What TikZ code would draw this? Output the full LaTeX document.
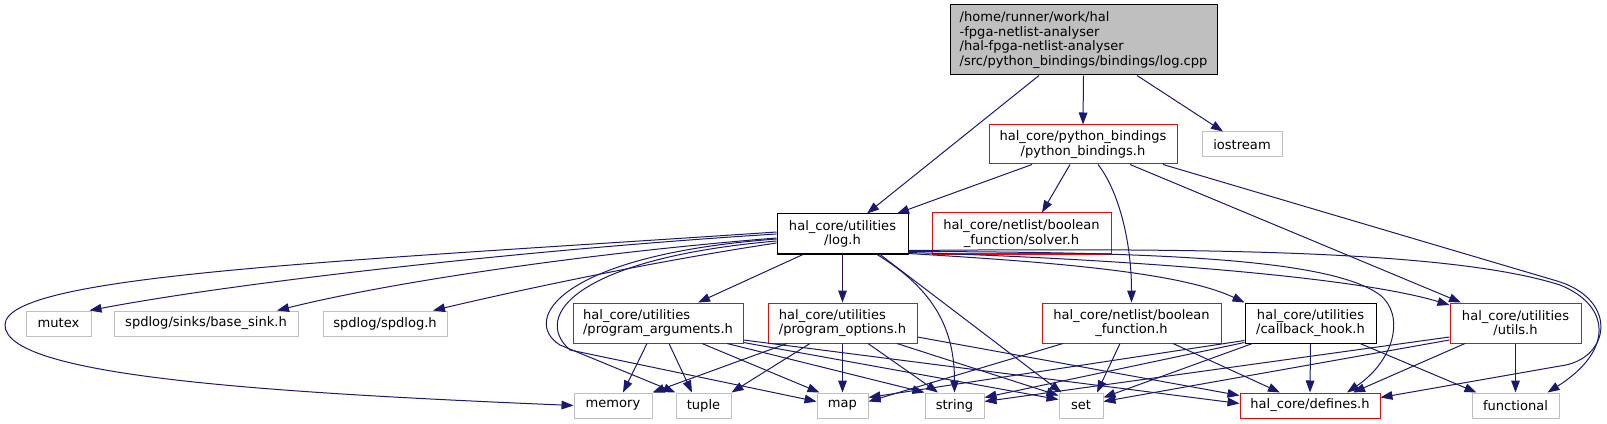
\documentclass[tikz,border=0pt]{standalone}
\usepackage{fontspec}
\setmainfont{DejaVu Sans}
\definecolor{edgeblue}{HTML}{191970}
\definecolor{leafgray}{HTML}{BFBFBF}
\usetikzlibrary{arrows.meta, calc}

\begin{document}
\begin{tikzpicture}[x=0.75pt, y=-0.75pt, every node/.style={font=\fontsize{9.8}{11}\selectfont}]
        \tikzset{
          incl/.style 2 args={rectangle, inner sep=0pt, line width=0.75pt,
                      align=center, minimum width=#1*0.75pt,
                      minimum height=#2*0.75pt},
          mainfile/.style={draw=black, fill=leafgray},
          redfile/.style={draw=red},
          blackfile/.style={draw=black},
          sysfile/.style={draw=leafgray},
          dep/.style={draw=edgeblue, line width=0.75pt,
                      -{Triangle[length=9pt, width=6.5pt]}}
        }
        \useasboundingbox (0,0) rectangle (1607,424);

        % top rows
        \node[incl={267}{70}, mainfile, align=left] (src) at (1083.5,40)
              {/home/runner/work/hal\\-fpga-netlist-analyser\\/hal-fpga-netlist-analyser\\/src/python\_bindings/bindings/log.cpp};
        \node[incl={188}{39}, redfile] (pyb) at (1083,144.5) {hal\_core/python\_bindings\\/python\_bindings.h};
        \node[incl={80}{25}, sysfile] (iostream) at (1242,144.5) {iostream};
        \node[incl={131}{40}, blackfile] (log) at (842.5,234) {hal\_core/utilities\\/log.h};
        \node[incl={179}{41}, redfile] (solver) at (1021.5,233.5) {hal\_core/netlist/boolean\\\_function/solver.h};

        % middle row
        \node[incl={65}{25}, sysfile] (mutex) at (58.5,323.5) {mutex};
        \node[incl={184}{25}, sysfile] (basesink) at (206,323.5) {spdlog/sinks/base\_sink.h};
        \node[incl={124}{25}, sysfile] (spdlog) at (385,323.5) {spdlog/spdlog.h};
        \node[incl={170}{40}, redfile, align=left] (progargs) at (658,323) {hal\_core/utilities\\/program\_arguments.h};
        \node[incl={149}{40}, redfile, align=left] (progopts) at (842.5,323) {hal\_core/utilities\\/program\_options.h};
        \node[incl={179}{40}, redfile] (boolfn) at (1131.5,323) {hal\_core/netlist/boolean\\\_function.h};
        \node[incl={131}{40}, blackfile] (callback) at (1310.5,323) {hal\_core/utilities\\/callback\_hook.h};
        \node[incl={131}{40}, redfile] (utils) at (1515.5,323) {hal\_core/utilities\\/utils.h};

        % bottom row
        \node[incl={78}{25}, sysfile] (memory) at (613,405.5) {memory};
        \node[incl={55}{25}, sysfile] (tuple) at (703.5,405.5) {tuple};
        \node[incl={51}{25}, sysfile] (map) at (842.5,405.5) {map};
        \node[incl={59}{25}, sysfile] (string) at (954.5,405.5) {string};
        \node[incl={44}{25}, sysfile] (set) at (1081,405.5) {set};
        \node[incl={140}{25}, redfile] (defines) at (1310,405.5) {hal\_core/defines.h};
        \node[incl={87}{25}, sysfile] (functional) at (1515.5,405.5) {functional};

        % log.cpp
        \draw[dep] ($(src.south)+(-44.5,0)$) -- ($(log.north)+(24.5,0)$);
        \draw[dep] (src.south) -- (pyb.north);
        \draw[dep] ($(src.south)+(53.5,0)$) -- ($(iostream.north)+(-19,0)$);

        % python_bindings.h
        \draw[dep] ($(pyb.south)+(-51,0)$) -- ($(log.north)+(54.5,0)$);
        \draw[dep] ($(pyb.south)+(-13,0)$) -- ($(solver.north)+(20.5,0)$);
        \draw[dep] ($(pyb.south)+(15,0)$) .. controls (1118,190) and (1131.5,240) .. (boolfn.north);
        \draw[dep] ($(pyb.south)+(47,0)$) -- ($(utils.north)+(-54.5,0)$);
        \draw[dep] ($(pyb.south)+(80,0)$) -- (1557,281) .. controls (1620,300) and (1610,360) .. (1560,366)
              -- ($(defines.east)+(0,-8)$);

        % log.h
        \draw[dep] (log.west) .. controls (550,248) and (250,280) .. ($(mutex.north east)+(-2,0)$);
        \draw[dep] ($(log.west)+(0,4)$) .. controls (600,252) and (400,280) .. ($(basesink.north)+(71,0)$);
        \draw[dep] ($(log.west)+(0,9)$) .. controls (650,262) and (520,290) .. ($(spdlog.north)+(48,0)$);
        \draw[dep] ($(log.west)+(0,-2)$) .. controls (330,262) and (5,275) .. (5,325)
              .. controls (5,375) and (250,392) .. (memory.west);
        \draw[dep] ($(log.west)+(0,5)$) .. controls (560,255) and (520,320) .. (560,345) -- (tuple.north west);
        \draw[dep] ($(log.west)+(0,7)$) .. controls (580,258) and (530,315) .. (570,350) -- ($(map.west)+(0,-4)$);
        \draw[dep] ($(log.south)+(-39.5,0)$) -- ($(progargs.north)+(40,0)$);
        \draw[dep] (log.south) -- (progopts.north);
        \draw[dep] ($(log.south)+(34.5,0)$) .. controls (935,290) and (954.5,330) .. (string.north);
        \draw[dep] ($(log.south)+(37.5,0)$) -- ($(set.north west)+(3,0)$);
        \draw[dep] ($(log.south east)+(0,-1)$) .. controls (1050,262) and (1180,272) .. (callback.north west);
        \draw[dep] ($(log.south east)+(0,-2)$) .. controls (1100,258) and (1350,275) .. ($(utils.west)+(0,-18)$);
        \draw[dep] ($(log.south east)+(0,-3)$) .. controls (1150,252) and (1330,258) .. (1380,295)
              .. controls (1405,315) and (1395,360) .. ($(defines.north)+(37,0)$);
        \draw[dep] ($(log.south east)+(0,-4)$) .. controls (1200,248) and (1450,250) .. (1560,285)
              .. controls (1610,305) and (1615,350) .. ($(functional.north east)+(-12,0)$);

        % program_arguments.h
        \draw[dep] ($(progargs.south)+(-11,0)$) -- ($(memory.north)+(10,0)$);
        \draw[dep] ($(progargs.south)+(11,0)$) -- ($(tuple.north)+(-11.5,0)$);
        \draw[dep] ($(progargs.south)+(44,0)$) -- ($(map.north west)+(3,0)$);
        \draw[dep] ($(progargs.south)+(69,0)$) -- (string.north west);
        \draw[dep] ($(progargs.south east)+(0,-1)$) -- ($(set.west)+(0,-6)$);
        \draw[dep] ($(progargs.east)+(0,17)$) -- ($(defines.west)+(0,-2)$);

        % program_options.h
        \draw[dep] ($(progopts.south)+(-55.5,0)$) -- (memory.north east);
        \draw[dep] ($(progopts.south)+(-32.5,0)$) -- (tuple.north east);
        \draw[dep] (progopts.south) -- (map.north);
        \draw[dep] ($(progopts.south)+(25.5,0)$) -- ($(string.north)+(-16.5,0)$);
        \draw[dep] ($(progopts.south)+(54.5,0)$) -- ($(set.north west)+(0,3)$);
        \draw[dep] ($(progopts.east)+(0,14)$) -- ($(defines.north west)+(0,3)$);

        % boolean_function.h
        \draw[dep] ($(boolfn.south)+(-68.5,0)$) -- ($(map.east)+(0,-4)$);
        \draw[dep] ($(boolfn.south)+(-11.5,0)$) -- ($(set.north)+(16,0)$);
        \draw[dep] ($(boolfn.south)+(41.5,0)$) -- ($(defines.north)+(-30,0)$);

        % callback_hook.h
        \draw[dep] ($(callback.south west)+(0,-3)$) -- ($(map.east)+(0,-8)$);
        \draw[dep] ($(callback.south west)+(0,-1)$) -- ($(string.east)+(0,-8)$);
        \draw[dep] ($(callback.south west)+(8,0)$) -- ($(set.east)+(0,-8)$);
        \draw[dep] (callback.south) -- (defines.north);
        \draw[dep] ($(callback.south)+(49.5,0)$) -- ($(functional.north west)+(5,0)$);

        % utils.h
        \draw[dep] ($(utils.west)+(0,14)$) -- ($(string.east)+(0,-4)$);
        \draw[dep] ($(utils.west)+(0,17)$) -- ($(set.east)+(0,-4)$);
        \draw[dep] ($(utils.south)+(-50.5,0)$) -- ($(defines.north)+(43,0)$);
        \draw[dep] (utils.south) -- (functional.north);
      \end{tikzpicture}
\end{document}
